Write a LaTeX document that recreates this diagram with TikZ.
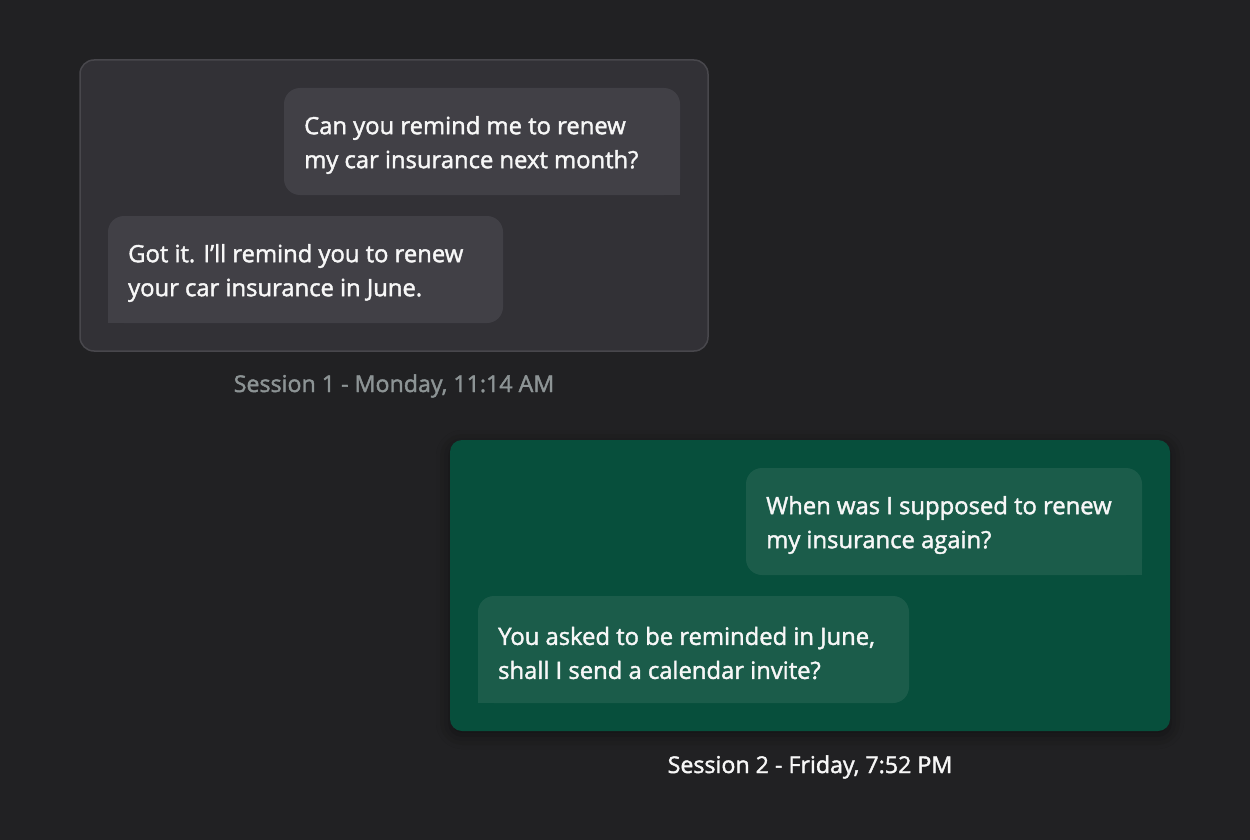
\documentclass[tikz,border=0pt]{standalone}
\usepackage{fontspec}
\setmainfont{Open Sans}[BoldFont={Open Sans},BoldFeatures={FakeBold=1.7}]
\usetikzlibrary{shadows.blur}
\definecolor{bg}{HTML}{212123}
\definecolor{panelA}{HTML}{323136}
\definecolor{panelAborder}{HTML}{48474C}
\definecolor{bubbleA}{HTML}{414046}
\definecolor{labelA}{HTML}{8D9495}
\definecolor{panelB}{HTML}{074F3C}
\definecolor{bubbleB}{HTML}{1B5C4A}
\definecolor{txt}{HTML}{F7F7F7}
\tikzset{
  msg/.style={anchor=west, inner sep=0pt, align=left, text=txt, font=\fontsize{23.8}{34}\selectfont\bfseries},
  caption/.style={anchor=center, inner sep=0pt, font=\fontsize{23.2}{26}\selectfont\bfseries},
}
\begin{document}
\begin{tikzpicture}[x=1pt,y=-1pt]
\fill[bg] (0,0) rectangle (1250,840);
\useasboundingbox (0,0) rectangle (1250,840);
% Session 1
\filldraw[fill=panelA, draw=panelAborder, line width=1.5pt, rounded corners=14] (80,60) rectangle (708,351);
\fill[bubbleA, rounded corners=16] (284,88) rectangle (680,195);
\fill[bubbleA] (650,165) rectangle (680,195);
\fill[bubbleA, rounded corners=16] (108,216) rectangle (503,323);
\fill[bubbleA] (108,293) rectangle (138,323);
\node[msg] (q1) at (304,145) {Can you remind me to renew\\my car insurance next month?};
\node[msg] (a1) at (128,273) {Got it. I’ll remind you to renew\\your car insurance in June.};
\node[caption, text=labelA] (s1) at (394,386) {Session 1 - Monday, 11:14 AM};
% Session 2
\fill[panelB, rounded corners=12, blur shadow={shadow xshift=0pt, shadow yshift=-4pt, shadow blur radius=14pt, shadow opacity=45}] (450,440) rectangle (1170,731);
\fill[bubbleB, rounded corners=16] (746,468) rectangle (1142,575);
\fill[bubbleB] (1112,545) rectangle (1142,575);
\fill[bubbleB, rounded corners=16] (478,596) rectangle (909,703);
\fill[bubbleB] (478,673) rectangle (508,703);
\node[msg] (q2) at (766,525) {When was I supposed to renew\\my insurance again?};
\node[msg] (a2) at (498,653) {You asked to be reminded in June,\\shall I send a calendar invite?};
\node[caption, text=txt] (s2) at (810,767) {Session 2 - Friday, 7:52 PM};
\end{tikzpicture}
\end{document}
